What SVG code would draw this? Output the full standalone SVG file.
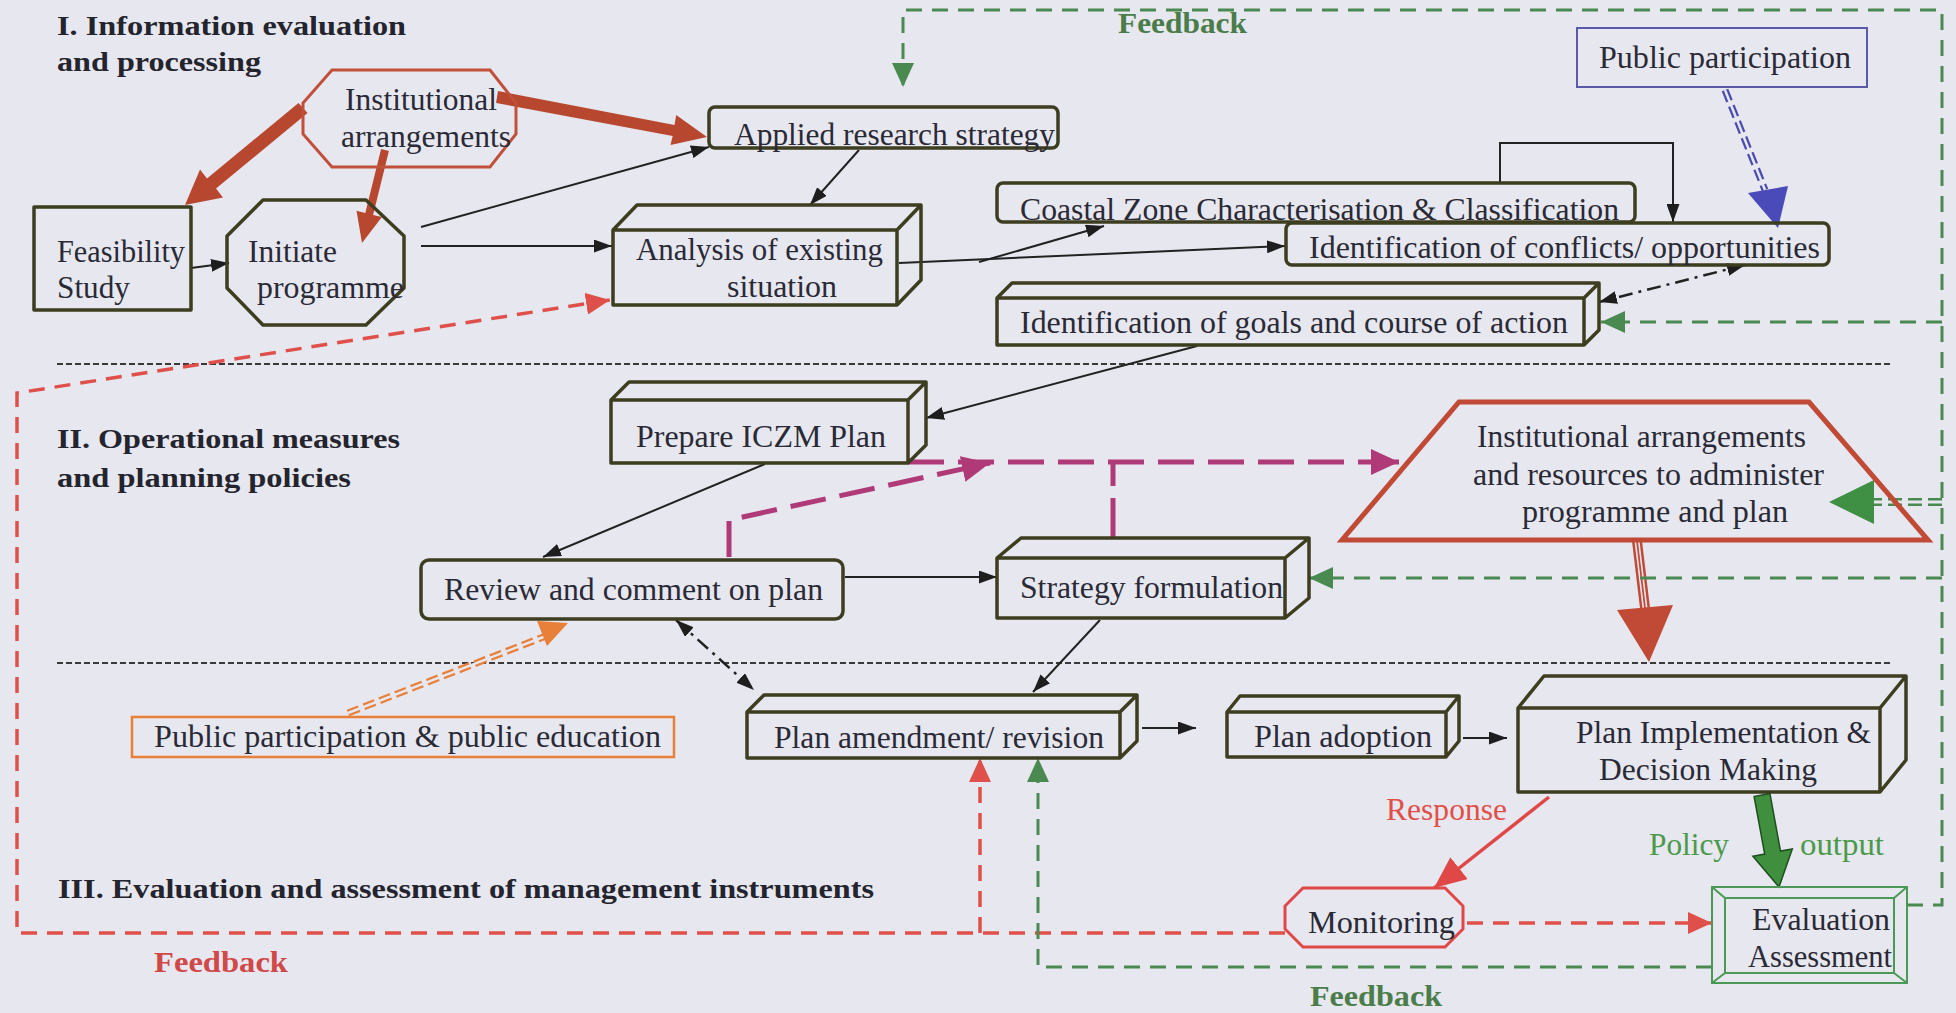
<svg xmlns="http://www.w3.org/2000/svg" width="1956" height="1013" viewBox="0 0 1956 1013">
<defs>
<style>
.box{fill:none;stroke:#3d3d1f;stroke-width:3.5;stroke-linejoin:round}
.t{font-family:"Liberation Serif","Times New Roman",serif;font-size:32px;fill:#2a2a36}
.h{font-family:"Liberation Serif","Times New Roman",serif;font-size:28px;font-weight:bold;fill:#24242e}
.fb{font-family:"Liberation Serif","Times New Roman",serif;font-size:29px;font-weight:bold}
.sep{stroke:#3a3a3a;stroke-width:2;stroke-dasharray:6 3;fill:none}
.c{fill:none;stroke:#222;stroke-width:2}
.dd{fill:none;stroke:#222;stroke-width:2.5;stroke-dasharray:14 6 3 6}
.red{fill:none;stroke:#e0504a;stroke-width:3.5;stroke-dasharray:16 10}
.grn{fill:none;stroke:#4a8a50;stroke-width:3;stroke-dasharray:16 10}
.mag{fill:none;stroke:#b03a78;stroke-width:5}
.brown{fill:#b8472f}
</style>
<marker id="ab" viewBox="0 0 10 10" refX="10" refY="5" markerWidth="18" markerHeight="13" markerUnits="userSpaceOnUse" orient="auto-start-reverse" preserveAspectRatio="none"><path d="M0,0 L10,5 L0,10 z" fill="#1e1e1e"/></marker>
<marker id="ar" viewBox="0 0 10 10" refX="10" refY="5" markerWidth="24" markerHeight="22" markerUnits="userSpaceOnUse" orient="auto" preserveAspectRatio="none"><path d="M0,0 L10,5 L0,10 z" fill="#e0504a"/></marker>
<marker id="ag" viewBox="0 0 10 10" refX="10" refY="5" markerWidth="24" markerHeight="22" markerUnits="userSpaceOnUse" orient="auto" preserveAspectRatio="none"><path d="M0,0 L10,5 L0,10 z" fill="#4a8a50"/></marker>
<marker id="am" viewBox="0 0 10 10" refX="10" refY="5" markerWidth="28" markerHeight="26" markerUnits="userSpaceOnUse" orient="auto" preserveAspectRatio="none"><path d="M0,0 L10,5 L0,10 z" fill="#b03a78"/></marker>
<marker id="arr" viewBox="0 0 10 10" refX="10" refY="5" markerWidth="32" markerHeight="28" markerUnits="userSpaceOnUse" orient="auto" preserveAspectRatio="none"><path d="M0,0 L10,5 L0,10 z" fill="#e04848"/></marker>
</defs>

<rect width="1956" height="1013" fill="#e7e7ef"/>

<!-- section headings -->
<g id="headings">
<text class="h" x="57" y="35" textLength="349" lengthAdjust="spacingAndGlyphs">I. Information evaluation</text>
<text class="h" x="57" y="71" textLength="204" lengthAdjust="spacingAndGlyphs">and processing</text>
<text class="h" x="57" y="448" textLength="343" lengthAdjust="spacingAndGlyphs">II. Operational measures</text>
<text class="h" x="57" y="487" textLength="294" lengthAdjust="spacingAndGlyphs">and planning policies</text>
<text class="h" x="58" y="898" textLength="816" lengthAdjust="spacingAndGlyphs">III. Evaluation and assessment of management instruments</text>
<text class="fb" x="1118" y="33" fill="#4a7d4a" textLength="129" lengthAdjust="spacingAndGlyphs">Feedback</text>
<text class="fb" x="154" y="972" fill="#d04848" textLength="134" lengthAdjust="spacingAndGlyphs">Feedback</text>
<text class="fb" x="1310" y="1006" fill="#4a7d4a" textLength="132" lengthAdjust="spacingAndGlyphs">Feedback</text>
</g>

<!-- stage separators -->
<g id="separators">
<line class="sep" x1="57" y1="364" x2="1890" y2="364"/>
<line class="sep" x1="57" y1="663" x2="1890" y2="663"/>
</g>

<!-- connectors -->
<g id="connectors">
<!-- black flow -->
<path class="c" d="M191,268 L229,263" marker-end="url(#ab)"/>
<path class="c" d="M421,227 L709,147" marker-end="url(#ab)"/>
<path class="c" d="M421,246 L612,246" marker-end="url(#ab)"/>
<path class="c" d="M859,150 L810,205" marker-end="url(#ab)"/>
<path class="c" d="M899,263 L1285,246" marker-end="url(#ab)"/>
<path class="c" d="M979,262 L1104,226" marker-end="url(#ab)"/>
<path class="c" d="M1500,183 V143 H1673 V222" marker-end="url(#ab)"/>
<path class="c" d="M1197,346 L926,418" marker-end="url(#ab)"/>
<path class="c" d="M765,464 L543,557" marker-end="url(#ab)"/>
<path class="c" d="M845,577 L997,577" marker-end="url(#ab)"/>
<path class="c" d="M1100,620 L1033,692" marker-end="url(#ab)"/>
<path class="c" d="M1142,728 L1196,728" marker-end="url(#ab)"/>
<path class="c" d="M1463,738 L1507,738" marker-end="url(#ab)"/>
<path class="dd" d="M1745,265 L1599,302" marker-start="url(#ab)" marker-end="url(#ab)"/>
<path class="dd" d="M676,620 L754,690" marker-start="url(#ab)" marker-end="url(#ab)"/>

<!-- institutional arrangements feeds -->
<polygon class="brown" points="307.5,113 216,188.5 223,197.5 185,205 200,169.5 207,178.5 298.5,103"/>
<polygon class="brown" points="388.9,151 373.1,214.9 381.9,217 362,243 356.5,210.8 365.3,212.9 381.1,149"/>
<polygon class="brown" points="498,91 674.5,125 676.2,115 707,137 670.5,145 672.7,136 496,103"/>

<!-- public participation inputs -->
<path d="M1725,90 L1765,190" fill="none" stroke="#4a4ab0" stroke-width="7" stroke-dasharray="12 5"/>
<path d="M1725,90 L1765,190" fill="none" stroke="#e7e7ef" stroke-width="2.5"/>
<polygon points="1748,193 1788,186 1778,228" fill="#4a4ab8"/>
<path d="M348,713 L546,636" fill="none" stroke="#e8803a" stroke-width="7" stroke-dasharray="12 5"/>
<path d="M348,713 L546,636" fill="none" stroke="#e7e7ef" stroke-width="2.5"/>
<polygon points="547,646 568,623 537,621" fill="#e8803a"/>

<!-- resources to implementation -->
<path d="M1637,541 L1645,608" fill="none" stroke="#c04a35" stroke-width="10"/>
<path d="M1637,541 L1645,608" fill="none" stroke="#e7e7ef" stroke-width="5"/>
<path d="M1637,541 L1645,608" fill="none" stroke="#c04a35" stroke-width="1.8"/>
<polygon points="1617,610 1673,605 1649,662" fill="#c04a35"/>

<!-- magenta links to institutional arrangements -->
<path class="mag" d="M908,462 H1358" stroke-dasharray="36 14"/>
<path class="mag" d="M1358,462 H1399" marker-end="url(#am)"/>
<path class="mag" d="M1113,538 V462" stroke-width="4" stroke-dasharray="40 12"/>
<path class="mag" d="M729,557 V520 L990,463" stroke-dasharray="36 14" marker-end="url(#am)"/>

<!-- red feedback loop -->
<path class="red" d="M1285,933 H17 V393 L610,300" marker-end="url(#ar)"/>
<path class="red" d="M980,933 V758" marker-end="url(#ar)"/>
<path class="red" d="M1467,923 L1712,923" marker-end="url(#ar)"/>
<path d="M1549,797 L1434,888" fill="none" stroke="#e04848" stroke-width="3.5" marker-end="url(#arr)"/>

<!-- green feedback loops -->
<path class="grn" d="M1907,905 H1942 V10 H903 V87" marker-end="url(#ag)"/>
<path class="grn" d="M1942,322 H1601" marker-end="url(#ag)"/>
<path class="grn" d="M1942,578 H1309" marker-end="url(#ag)"/>
<path d="M1942,502 H1872" fill="none" stroke="#4a8a50" stroke-width="8" stroke-dasharray="14 6"/>
<path d="M1942,502 H1872" fill="none" stroke="#e7e7ef" stroke-width="3"/>
<polygon points="1874,480 1874,524 1829,502" fill="#3f8f45"/>
<path class="grn" d="M1712,967 H1038 V758" marker-end="url(#ag)"/>
<polygon points="1769.9,793.5 1780.5,851.1 1792.3,849 1779,887 1752.9,856.2 1764.7,854.1 1754.1,796.5" fill="#3f8f3f" stroke="#1f4f1f" stroke-width="1.5"/>
</g>

<!-- nodes -->
<g id="institutional-arrangements">
<polygon points="332,70 490,70 516,103 516,134 490,167 332,167 303,134 303,103" fill="none" stroke="#c0503a" stroke-width="3"/>
<text class="t" x="345" y="110" textLength="152" lengthAdjust="spacingAndGlyphs">Institutional</text>
<text class="t" x="341" y="147" textLength="170" lengthAdjust="spacingAndGlyphs">arrangements</text>
</g>

<g id="feasibility-study">
<rect class="box" x="34" y="207" width="157" height="103" stroke-linejoin="miter"/>
<text class="t" x="57" y="262" textLength="128" lengthAdjust="spacingAndGlyphs">Feasibility</text>
<text class="t" x="57" y="298" textLength="73" lengthAdjust="spacingAndGlyphs">Study</text>
</g>

<g id="initiate-programme">
<polygon class="box" points="263,200 366,200 404,236 404,288 366,325 263,325 227,288 227,236"/>
<text class="t" x="248" y="262" textLength="89" lengthAdjust="spacingAndGlyphs">Initiate</text>
<text class="t" x="257" y="298" textLength="147" lengthAdjust="spacingAndGlyphs">programme</text>
</g>

<g id="applied-research">
<rect class="box" x="709" y="107" width="349" height="41" rx="6"/>
<text class="t" x="734" y="145" textLength="321" lengthAdjust="spacingAndGlyphs">Applied research strategy</text>
</g>

<g id="analysis">
<path class="box" d="M613,230 H897 V305 H613 Z M613,230 L637,205 H921 L897,230 M921,205 V280 L897,305"/>
<text class="t" x="636" y="260" textLength="247" lengthAdjust="spacingAndGlyphs">Analysis of existing</text>
<text class="t" x="727" y="297" textLength="110" lengthAdjust="spacingAndGlyphs">situation</text>
</g>

<g id="coastal-zone">
<rect class="box" x="997" y="183" width="638" height="39" rx="6"/>
<text class="t" x="1020" y="220" textLength="599" lengthAdjust="spacingAndGlyphs">Coastal Zone Characterisation &amp; Classification</text>
</g>

<g id="public-participation">
<rect x="1577" y="28" width="290" height="59" fill="none" stroke="#5a5aa8" stroke-width="2"/>
<text class="t" x="1599" y="68" textLength="252" lengthAdjust="spacingAndGlyphs">Public participation</text>
</g>

<g id="conflicts">
<rect class="box" x="1286" y="223" width="543" height="42" rx="6"/>
<text class="t" x="1309" y="258" textLength="511" lengthAdjust="spacingAndGlyphs">Identification of conflicts/ opportunities</text>
</g>

<g id="goals">
<path class="box" d="M997,298 H1584 V345 H997 Z M997,298 L1012,283 H1599 L1584,298 M1599,283 V330 L1584,345"/>
<text class="t" x="1020" y="333" textLength="548" lengthAdjust="spacingAndGlyphs">Identification of goals and course of action</text>
</g>

<g id="prepare-plan">
<path class="box" d="M611,400 H908 V463 H611 Z M611,400 L629,382 H926 L908,400 M926,382 V445 L908,463"/>
<text class="t" x="636" y="447" textLength="250" lengthAdjust="spacingAndGlyphs">Prepare ICZM Plan</text>
</g>

<g id="institutional-resources">
<polygon points="1459,402 1809,402 1928,540 1342,540" fill="none" stroke="#c04a35" stroke-width="5" stroke-linejoin="miter"/>
<text class="t" x="1477" y="447" textLength="329" lengthAdjust="spacingAndGlyphs">Institutional arrangements</text>
<text class="t" x="1473" y="485" textLength="351" lengthAdjust="spacingAndGlyphs">and resources to administer</text>
<text class="t" x="1522" y="522" textLength="266" lengthAdjust="spacingAndGlyphs">programme and plan</text>
</g>

<g id="review">
<rect class="box" x="421" y="560" width="422" height="59" rx="8"/>
<text class="t" x="444" y="600" textLength="379" lengthAdjust="spacingAndGlyphs">Review and comment on plan</text>
</g>

<g id="strategy">
<path class="box" d="M997,558 H1285 V618 H997 Z M997,558 L1021,538 H1309 L1285,558 M1309,538 V598 L1285,618"/>
<text class="t" x="1020" y="598" textLength="263" lengthAdjust="spacingAndGlyphs">Strategy formulation</text>
</g>

<g id="public-education">
<rect x="132" y="717" width="542" height="40" fill="none" stroke="#e8803a" stroke-width="2.5"/>
<text class="t" x="154" y="747" textLength="507" lengthAdjust="spacingAndGlyphs">Public participation &amp; public education</text>
</g>

<g id="plan-amendment">
<path class="box" d="M747,712 H1120 V758 H747 Z M747,712 L764,695 H1137 L1120,712 M1137,695 V741 L1120,758"/>
<text class="t" x="774" y="748" textLength="330" lengthAdjust="spacingAndGlyphs">Plan amendment/ revision</text>
</g>

<g id="plan-adoption">
<path class="box" d="M1227,712 H1446 V757 H1227 Z M1227,712 L1240,696 H1459 L1446,712 M1459,696 V741 L1446,757"/>
<text class="t" x="1254" y="747" textLength="178" lengthAdjust="spacingAndGlyphs">Plan adoption</text>
</g>

<g id="plan-implementation">
<path class="box" d="M1518,708 H1880 V792 H1518 Z M1518,708 L1544,676 H1906 L1880,708 M1906,676 V760 L1880,792"/>
<text class="t" x="1576" y="743" textLength="295" lengthAdjust="spacingAndGlyphs">Plan Implementation &amp;</text>
<text class="t" x="1599" y="780" textLength="218" lengthAdjust="spacingAndGlyphs">Decision Making</text>
</g>

<g id="labels">
<text class="t" x="1386" y="820" style="fill:#e05048" textLength="121" lengthAdjust="spacingAndGlyphs">Response</text>
<text class="t" x="1649" y="855" style="fill:#4a9a4a" textLength="80" lengthAdjust="spacingAndGlyphs">Policy</text>
<text class="t" x="1800" y="855" style="fill:#4a9a4a" textLength="84" lengthAdjust="spacingAndGlyphs">output</text>
</g>

<g id="monitoring">
<polygon points="1303,888 1445,888 1463,906 1463,929 1445,947 1303,947 1285,929 1285,906" fill="none" stroke="#e04848" stroke-width="3"/>
<text class="t" x="1308" y="933" textLength="147" lengthAdjust="spacingAndGlyphs">Monitoring</text>
</g>

<g id="evaluation">
<rect x="1712" y="887" width="195" height="96" fill="none" stroke="#4a9a55" stroke-width="2"/>
<rect x="1725" y="898" width="169" height="75" fill="none" stroke="#4a9a55" stroke-width="2"/>
<path d="M1712,887 L1725,898 M1907,887 L1894,898 M1907,983 L1894,973 M1712,983 L1725,973" stroke="#4a9a55" stroke-width="2"/>
<text class="t" x="1752" y="930" textLength="138" lengthAdjust="spacingAndGlyphs">Evaluation</text>
<text class="t" x="1748" y="967" textLength="144" lengthAdjust="spacingAndGlyphs">Assessment</text>
</g>
</svg>
